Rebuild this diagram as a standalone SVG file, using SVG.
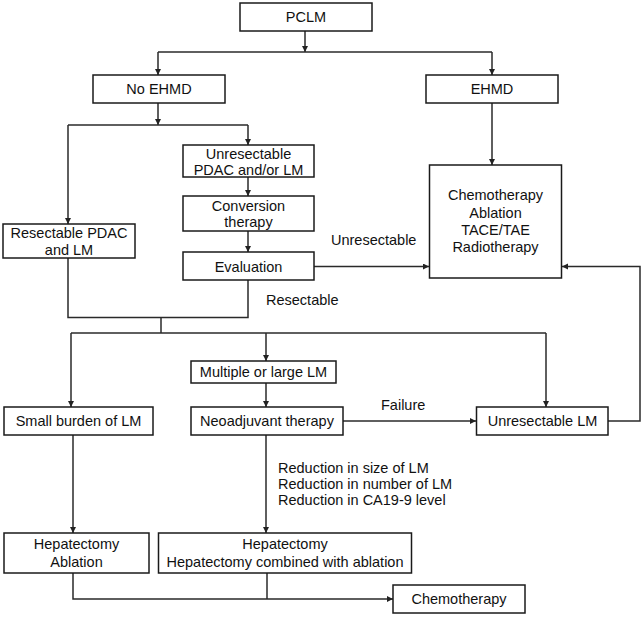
<svg xmlns="http://www.w3.org/2000/svg" width="644" height="617" viewBox="0 0 644 617">
<style>
.box{fill:#fff;stroke:#1a1a1a;stroke-width:1.5}
.t{font-family:"Liberation Sans",Arial,sans-serif;font-size:14.5px;fill:#111;text-anchor:middle}
.l{font-family:"Liberation Sans",Arial,sans-serif;font-size:14.5px;fill:#111}
.c{fill:none;stroke:#2a2a2a;stroke-width:1.5}
</style>
<defs>
<marker id="a" markerWidth="8" markerHeight="8" refX="6" refY="3" orient="auto" markerUnits="userSpaceOnUse">
<path d="M0,0 L6,3 L0,6 z" fill="#222"/>
</marker>
</defs>
<rect width="644" height="617" fill="#fff"/>
<g id="connectors">
<path class="c" d="M305,31 V52" marker-end="url(#a)"/>
<path class="c" d="M158,52 H492"/>
<path class="c" d="M158,52 V75" marker-end="url(#a)"/>
<path class="c" d="M492,52 V75" marker-end="url(#a)"/>
<path class="c" d="M158,103 V125" marker-end="url(#a)"/>
<path class="c" d="M68,125 H248"/>
<path class="c" d="M248,125 V145" marker-end="url(#a)"/>
<path class="c" d="M68,125 V224" marker-end="url(#a)"/>
<path class="c" d="M492,103 V165" marker-end="url(#a)"/>
<path class="c" d="M248,177 V196" marker-end="url(#a)"/>
<path class="c" d="M248,231 V252" marker-end="url(#a)"/>
<path class="c" d="M314,266.5 H429" marker-end="url(#a)"/>
<path class="c" d="M248,280 V317.5 H68 V258"/>
<path class="c" d="M161,317.5 V333"/>
<path class="c" d="M71,333 H546"/>
<path class="c" d="M71,333 V407" marker-end="url(#a)"/>
<path class="c" d="M266,333 V361" marker-end="url(#a)"/>
<path class="c" d="M546,333 V407" marker-end="url(#a)"/>
<path class="c" d="M266,383 V407" marker-end="url(#a)"/>
<path class="c" d="M343,421 H476" marker-end="url(#a)"/>
<path class="c" d="M608,421 H640 V266.5 H562" marker-end="url(#a)"/>
<path class="c" d="M73,435 V533" marker-end="url(#a)"/>
<path class="c" d="M266,435 V533" marker-end="url(#a)"/>
<path class="c" d="M73,573 V599 H393" marker-end="url(#a)"/>
<path class="c" d="M267,573 V599"/>
</g>
<g id="labels">
<text class="l" x="331" y="245">Unresectable</text>
<text class="l" x="266" y="305">Resectable</text>
<text class="l" x="381" y="409.5">Failure</text>
<text class="l" x="278" y="473">Reduction in size of LM</text>
<text class="l" x="278" y="489">Reduction in number of LM</text>
<text class="l" x="278" y="505">Reduction in CA19-9  level</text>
</g>
<g id="pclm"><rect class="box" x="240" y="3" width="132" height="28"/><text class="t" x="306" y="22">PCLM</text></g>
<g id="noehmd"><rect class="box" x="93" y="75" width="132" height="28"/><text class="t" x="159" y="94">No EHMD</text></g>
<g id="ehmd"><rect class="box" x="426" y="75" width="132" height="28"/><text class="t" x="492" y="94">EHMD</text></g>
<g id="unres"><rect class="box" x="183" y="145" width="131" height="32"/><text class="t" x="248.5" y="158.5">Unresectable</text><text class="t" x="248.5" y="175">PDAC and/or LM</text></g>
<g id="conv"><rect class="box" x="183" y="196" width="131" height="35"/><text class="t" x="248.5" y="210.5">Conversion</text><text class="t" x="248.5" y="227">therapy</text></g>
<g id="eval"><rect class="box" x="183" y="252" width="131" height="28"/><text class="t" x="248.5" y="271.5">Evaluation</text></g>
<g id="respdac"><rect class="box" x="3" y="224" width="132" height="34"/><text class="t" x="69" y="237.5">Resectable PDAC</text><text class="t" x="69" y="255">and LM</text></g>
<g id="chemo1"><rect class="box" x="429.5" y="165" width="132" height="113"/><text class="t" x="495.5" y="200">Chemotherapy</text><text class="t" x="495.5" y="218">Ablation</text><text class="t" x="495.5" y="235">TACE/TAE</text><text class="t" x="495.5" y="252">Radiotherapy</text></g>
<g id="multi"><rect class="box" x="191" y="361" width="145" height="22"/><text class="t" x="263.5" y="377">Multiple or large LM</text></g>
<g id="small"><rect class="box" x="4" y="407" width="149" height="28"/><text class="t" x="78.5" y="426">Small burden of LM</text></g>
<g id="neo"><rect class="box" x="191" y="407" width="152" height="28"/><text class="t" x="267" y="426">Neoadjuvant therapy</text></g>
<g id="unreslm"><rect class="box" x="476.5" y="407" width="131.5" height="28"/><text class="t" x="542.5" y="426">Unresectable LM</text></g>
<g id="hep1"><rect class="box" x="4" y="533" width="145" height="40"/><text class="t" x="76.5" y="548.5">Hepatectomy</text><text class="t" x="76.5" y="566.5">Ablation</text></g>
<g id="hep2"><rect class="box" x="158.5" y="533" width="253" height="40"/><text class="t" x="285" y="548.5">Hepatectomy</text><text class="t" x="285" y="566.5">Hepatectomy combined with ablation</text></g>
<g id="chemo2"><rect class="box" x="393" y="585" width="132" height="28"/><text class="t" x="459" y="604">Chemotherapy</text></g>
</svg>
